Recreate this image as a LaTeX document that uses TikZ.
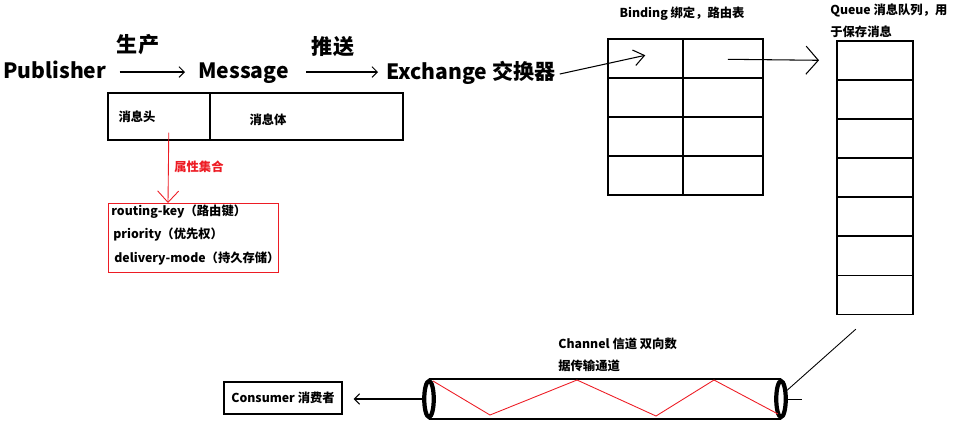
\documentclass[tikz,border=0pt]{standalone}
\usepackage{fontspec}
\setmainfont{Noto Sans CJK SC}
\usepackage{tikz}
\usetikzlibrary{arrows.meta,shapes.geometric}
\definecolor{paintred}{RGB}{237,28,36}

\begin{document}
\begin{tikzpicture}[x=0.02cm,y=-0.02cm,
  big/.style={font=\bfseries\fontsize{12}{14}\selectfont,inner sep=0pt},
  small/.style={font=\bfseries\fontsize{7}{9}\selectfont,inner sep=0pt},
  cell/.style={draw,line width=0.9pt,inner sep=0pt,anchor=north west,
               minimum height=0.78cm},
  ring/.style={draw,ellipse,line width=2.4pt,inner sep=0pt,
               minimum width=0.19cm,minimum height=0.72cm},
  arr/.style={-{Straight Barb[length=3pt,width=6pt]},line width=0.6pt},
  arrwide/.style={-{Straight Barb[length=6pt,width=9pt]},line width=0.6pt},
  arrbig/.style={-{Straight Barb[length=7pt,width=16pt]},line width=0.6pt},
  redarr/.style={-{Straight Barb[length=6.5pt,width=12pt]},draw=paintred,
                 line width=0.5pt}]

  \useasboundingbox (0,0) rectangle (955,424);

  % producer side
  \node[big,anchor=base west] (pub)  at (3,78)   {Publisher};
  \node[big,anchor=base west] (msg)  at (198,78) {Message};
  \node[big,anchor=base west] (exch) at (386,79) {Exchange 交换器};
  \node[big] (prod) at (138,45) {生产};
  \node[big] (push) at (333,47) {推送};
  \draw[arr] ([shift={(13,-6)}]pub.base east) -- ([shift={(-13,-6)}]msg.base west);
  \draw[arr] ([shift={(17,-6)}]msg.base east) -- ([shift={(-8,-7)}]exch.base west);

  % message = header + body
  \node[cell,minimum width=2.04cm,minimum height=0.94cm] (head) at (107,92) {};
  \node[cell,minimum width=3.86cm,minimum height=0.94cm] (body) at (209,92) {};
  \node[small] (headtxt) at (137,117) {消息头};
  \node[small] (bodytxt) at (268,120) {消息体};

  \node[draw=paintred,line width=0.7pt,inner sep=0pt,anchor=north west,
        minimum width=3.4cm,minimum height=1.38cm] (props) at (108,203) {};
  \node[small,anchor=west] (rkey)  at (111,212) {routing-key（路由键）};
  \node[small,anchor=west] (prio)  at (113,235) {priority（优先权）};
  \node[small,anchor=west] (dmode) at (114,259) {delivery-mode（持久存储）};
  \draw[redarr] ([shift={(10,-8)}]head.south) -- ([shift={(60,0)}]props.north west);
  \node[small,text=paintred,anchor=west] (attr) at (174,167) {属性集合};

  % binding table
  \node[small] (bindtitle) at (682,14) {Binding 绑定，路由表};
  \foreach \r in {1,...,4} {
    \node[cell,minimum width=1.5cm] (b\r1) at (607,{38+39*(\r-1)}) {};
    \node[cell,minimum width=1.6cm] (b\r2) at (682,{38+39*(\r-1)}) {};
  }
  \draw[arrwide] ([shift={(4,-5)}]exch.base east) -- ([shift={(0,-3)}]b11.center);

  % queue
  \node[small,anchor=west] (qtitle1) at (830,10) {Queue 消息队列，用};
  \node[small,anchor=west] (qtitle2) at (830,32) {于保存消息};
  \foreach \r in {1,...,7}
    \node[cell,minimum width=1.52cm] (q\r) at (836,{40+39.1*(\r-1)}) {};
  \draw[arrbig] ([shift={(5,1)}]b12.center) -- ([shift={(-17,0)}]q1.west);

  % channel
  \node[ring] (lend) at (429,399) {};
  \node[ring] (rend) at (781,399) {};
  \draw[line width=0.8pt] (lend.north) -- (rend.north) (lend.south) -- (rend.south);
  \draw[paintred,line width=0.5pt] (433,381) -- (490,415) -- (577,380)
    -- (656,416) -- (714,380) -- (778,414);
  \node[small,anchor=west] (chan1) at (558,344) {Channel 信道 双向数};
  \node[small,anchor=west] (chan2) at (558,366) {据传输通道};
  \draw[line width=0.5pt] ([shift={(-19,14)}]q7.south) -- (rend.55);
  \draw[line width=0.5pt] (rend.east) -- ++(14,0);

  % consumer
  \node[draw,line width=0.7pt,small,minimum width=2.36cm,minimum height=0.64cm]
    (cons) at (283,398) {Consumer 消费者};
  \draw[arr] (lend.west) -- ([shift={(11,1)}]cons.east);

\end{tikzpicture}
\end{document}
